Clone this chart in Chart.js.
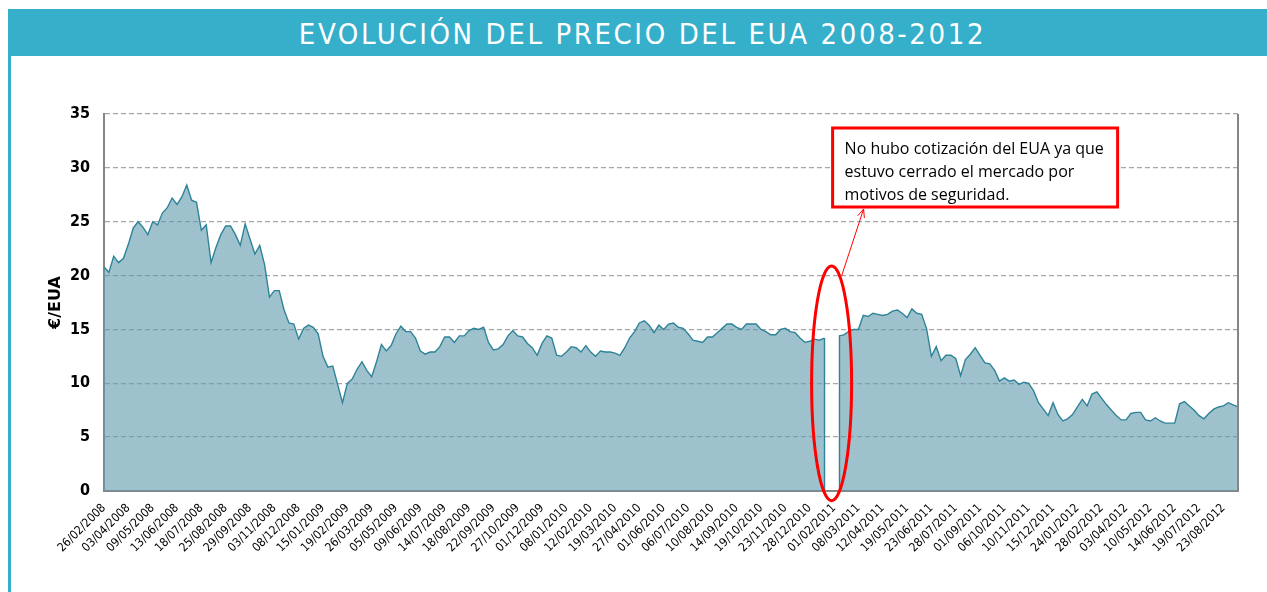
<!DOCTYPE html>
<html lang="es">
<head>
<meta charset="utf-8">
<title>Evolución del precio del EUA 2008-2012</title>
<script src="https://cdn.jsdelivr.net/npm/chart.js@4.4.1/dist/chart.umd.min.js"></script>
<style>
  html, body { margin: 0; padding: 0; background: #fff; }
  body { width: 1267px; height: 592px; position: relative; overflow: hidden; }
  .header {
    position: absolute; left: 8px; top: 9px; width: 1259px; height: 47px;
    background: #35afca; color: #fff; text-align: center;
    font-family: "DejaVu Sans Condensed", "DejaVu Sans", sans-serif;
    font-size: 29px; letter-spacing: 2.6px; line-height: 50px;
    padding-left: 10px; box-sizing: border-box;
  }
  .side { position: absolute; left: 8px; top: 56px; width: 3px; height: 536px; background: #35afca; }
  #chart { position: absolute; left: 0; top: 0; }
</style>
</head>
<body>
<div class="header">EVOLUCIÓN DEL PRECIO DEL EUA 2008-2012</div>
<div class="side"></div>
<canvas id="chart" width="1267" height="592"></canvas>
<script>
// tick dates, one every 5 samples (samples are ~5 trading days apart)
const dateLabels = [
    '26/02/2008', '03/04/2008', '09/05/2008', '13/06/2008', '18/07/2008', '25/08/2008',
    '29/09/2008', '03/11/2008', '08/12/2008', '15/01/2009', '19/02/2009', '26/03/2009',
    '05/05/2009', '09/06/2009', '14/07/2009', '18/08/2009', '22/09/2009', '27/10/2009',
    '01/12/2009', '08/01/2010', '12/02/2010', '19/03/2010', '27/04/2010', '01/06/2010',
    '06/07/2010', '10/08/2010', '14/09/2010', '19/10/2010', '23/11/2010', '28/12/2010',
    '01/02/2011', '08/03/2011', '12/04/2011', '19/05/2011', '23/06/2011', '28/07/2011',
    '01/09/2011', '06/10/2011', '10/11/2011', '15/12/2011', '24/01/2012', '28/02/2012',
    '03/04/2012', '10/05/2012', '14/06/2012', '19/07/2012', '23/08/2012'
];
const samplesPerLabel = 5;

// EUA price (€/EUA); null = market closed, no quote
const prices = [
    20.8, 20.3, 21.8, 21.2, 21.6, 22.9, 24.4, 25.0, 24.5, 23.8,
    25.0, 24.7, 25.8, 26.3, 27.2, 26.6, 27.3, 28.4, 27.0, 26.8,
    24.2, 24.7, 21.2, 22.6, 23.8, 24.6, 24.6, 23.8, 22.8, 24.8,
    23.4, 22.0, 22.8, 21.0, 18.0, 18.6, 18.6, 16.8, 15.6, 15.5,
    14.1, 15.1, 15.4, 15.2, 14.6, 12.5, 11.5,
    11.6, 9.9, 8.2, 10.0, 10.4, 11.3, 12.0, 11.2, 10.6, 12.0,
    13.6, 13.0, 13.5, 14.6, 15.3, 14.8, 14.8, 14.2, 13.0, 12.7,
    12.9, 12.9, 13.4, 14.3, 14.3, 13.8, 14.4, 14.4, 14.9, 15.1,
    15.0, 15.2, 13.8, 13.1, 13.2, 13.6, 14.4, 14.9, 14.4, 14.3,
    13.7, 13.3, 12.6, 13.7, 14.4, 14.2, 12.6,
    12.5, 12.9, 13.4, 13.3, 12.9, 13.5, 12.9, 12.5, 13.0, 12.9,
    12.9, 12.8, 12.6, 13.3, 14.2, 14.8, 15.6, 15.8, 15.4, 14.7,
    15.4, 15.0, 15.5, 15.6, 15.2, 15.1, 14.6, 14.0, 13.9, 13.8,
    14.3, 14.3, 14.7, 15.1, 15.5, 15.5, 15.2, 15.0, 15.5, 15.5,
    15.5, 15.0, 14.8, 14.5, 14.5, 15.0, 15.1,
    14.8, 14.7, 14.2, 13.8, 13.9, 14.1, 14.0, 14.2, null, null,
    14.4, 14.5, 14.8, 15.0, 15.0, 16.3, 16.2, 16.5, 16.4, 16.3,
    16.4, 16.7, 16.8, 16.5, 16.1, 16.9, 16.5, 16.4, 15.1, 12.5,
    13.4, 12.1, 12.6, 12.6, 12.3, 10.7, 12.2, 12.7, 13.3, 12.6,
    11.9, 11.8, 11.2, 10.2, 10.5, 10.2, 10.3, 9.9,
    10.1, 10.0, 9.3, 8.2, 7.6, 7.0, 8.2, 7.1, 6.5, 6.7,
    7.1, 7.8, 8.5, 7.9, 9.0, 9.2, 8.6, 8.0, 7.5, 7.0,
    6.6, 6.6, 7.2, 7.3, 7.3, 6.6, 6.5, 6.8, 6.5, 6.3,
    6.3, 6.3, 8.1, 8.3, 7.9, 7.5, 7.0, 6.7, 7.2, 7.6,
    7.8, 7.9, 8.2, 8.0, 7.8
];

const yTicks = [0, 5, 10, 15, 20, 25, 30, 35];
const noteLines = [
    'No hubo cotización del EUA ya que',
    'estuvo cerrado el mercado por',
    'motivos de seguridad.'
];

// one label slot per sample, dates every few samples
const axisLabels = prices.map((p, i) =>
    i % samplesPerLabel === 0 ? (dateLabels[i / samplesPerLabel] || '') : '');

// light hatched fill like the excel area
function makeHatch() {
    const c = document.createElement('canvas');
    c.width = 4; c.height = 4;
    const g = c.getContext('2d');
    g.fillStyle = 'rgba(92,152,170,0.6)';
    g.fillRect(0, 0, 4, 4);
    g.fillStyle = 'rgba(255,255,255,0.08)';
    for (let i = 0; i < 4; i++) g.fillRect(i, i, 1, 1);
    return g.createPattern(c, 'repeat');
}

// right frame, closed-market edges and the red note
const closedMarketNote = {
    id: 'closedMarketNote',
    afterDatasetsDraw(chart) {
        const { ctx, chartArea, scales: { x, y } } = chart;
        ctx.save();
        ctx.strokeStyle = '#868686';
        ctx.lineWidth = 2;
        ctx.beginPath();
        ctx.moveTo(chartArea.right, chartArea.top);
        ctx.lineTo(chartArea.right, chartArea.bottom + 1);
        ctx.stroke();

        const gapIdx = prices.indexOf(null);
        let gapEnd = gapIdx;
        while (prices[gapEnd] === null) gapEnd++;
        const before = gapIdx - 1;

        // vertical edges where the quote stops / restarts
        ctx.strokeStyle = '#2e8398';
        ctx.lineWidth = 1.4;
        ctx.beginPath();
        [before, gapEnd].forEach(i => {
            const px = Math.round(x.getPixelForValue(i)) + 0.5;
            ctx.moveTo(px, y.getPixelForValue(prices[i]));
            ctx.lineTo(px, y.getPixelForValue(0));
        });
        ctx.stroke();

        const cx = (x.getPixelForValue(before) + x.getPixelForValue(gapEnd)) / 2;
        const cy = y.getPixelForValue(10);
        const ry = cy - y.getPixelForValue(20.9);
        const rx = 20;

        ctx.strokeStyle = '#ff0000';
        ctx.lineWidth = 3;
        ctx.beginPath();
        ctx.ellipse(cx, cy, rx, ry, 0, 0, Math.PI * 2);
        ctx.stroke();

        // note box
        const bx = cx + 1;
        const by = y.getPixelForValue(33.7);
        const bw = 285, bh = 79;
        ctx.fillStyle = '#fff';
        ctx.fillRect(bx, by, bw, bh);
        ctx.strokeRect(bx, by, bw, bh);

        ctx.fillStyle = '#000';
        ctx.font = '16px "Open Sans", "Noto Sans", sans-serif';
        ctx.textBaseline = 'alphabetic';
        noteLines.forEach((t, i) => ctx.fillText(t, bx + 12, by + 26 + i * 23));

        // arrow from ellipse to box
        const x0 = cx + 10, y0 = cy - ry + 10;
        const x1 = cx + 32, y1 = by + bh + 2;
        ctx.lineWidth = 1;
        ctx.beginPath();
        ctx.moveTo(x0, y0);
        ctx.lineTo(x1, y1);
        const ang = Math.atan2(y1 - y0, x1 - x0);
        ctx.moveTo(x1, y1);
        ctx.lineTo(x1 - 9 * Math.cos(ang - 0.4), y1 - 9 * Math.sin(ang - 0.4));
        ctx.moveTo(x1, y1);
        ctx.lineTo(x1 - 9 * Math.cos(ang + 0.4), y1 - 9 * Math.sin(ang + 0.4));
        ctx.stroke();
        ctx.restore();
    }
};

const ctx = document.getElementById('chart').getContext('2d');
new Chart(ctx, {
    type: 'line',
    data: {
        labels: axisLabels,
        datasets: [{
            label: 'EUA',
            data: prices,
            borderColor: '#2e8398',
            borderWidth: 1.4,
            backgroundColor: makeHatch(),
            fill: 'origin',
            spanGaps: false,
            pointRadius: 0,
            tension: 0
        }]
    },
    options: {
        responsive: false,
        animation: false,
        devicePixelRatio: 1,
        layout: { padding: { top: 114, left: 46, right: 29, bottom: 0 } },
        plugins: {
            legend: { display: false },
            tooltip: { enabled: false }
        },
        scales: {
            x: {
                type: 'category',
                grid: { display: false },
                border: { display: true, color: '#868686', width: 2 },
                ticks: {
                    autoSkip: false,
                    minRotation: 45,
                    maxRotation: 45,
                    padding: 2,
                    color: '#000',
                    font: { family: '"DejaVu Sans Condensed", "DejaVu Sans", sans-serif', size: 12 }
                },
                afterFit(scale) {
                    scale.height = 101;
                    scale.paddingLeft = 0;
                    scale.paddingRight = 0;
                }
            },
            y: {
                min: 0,
                max: 35,
                afterBuildTicks(scale) {
                    scale.ticks = yTicks.map(v => ({ value: v }));
                },
                grid: {
                    color: '#a6a6a6',
                    lineWidth: 1.3,
                    drawTicks: false
                },
                border: { display: true, color: '#868686', width: 2, dash: [5, 3] },
                ticks: {
                    padding: 14,
                    color: '#000',
                    font: { family: '"DejaVu Sans Condensed", "DejaVu Sans", sans-serif', size: 16, weight: 'bold' }
                },
                title: {
                    display: true,
                    text: '€/EUA',
                    color: '#000',
                    padding: 0,
                    font: { family: '"DejaVu Sans", sans-serif', size: 16, weight: 'bold' }
                },
                afterFit(scale) {
                    scale.width = 58;
                    scale.paddingTop = 0;
                    scale.paddingBottom = 0;
                }
            }
        }
    },
    plugins: [closedMarketNote]
});
</script>
</body>
</html>
